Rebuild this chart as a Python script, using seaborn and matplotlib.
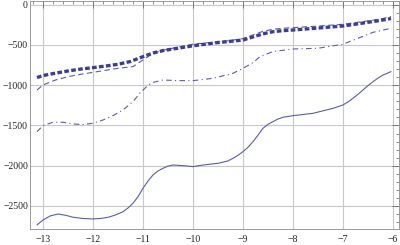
import matplotlib
matplotlib.use("Agg")
import matplotlib.pyplot as plt
import seaborn as sns
import numpy as np
import pandas as pd
from matplotlib.ticker import MultipleLocator, FuncFormatter

# thick dotted curve
x_thick = [-13.12, -13.0, -12.75, -12.5, -12.25, -12.0, -11.75, -11.5, -11.25, -11.0,
           -10.8, -10.6, -10.4, -10.2, -10.0, -9.75, -9.5, -9.25, -9.0, -8.8,
           -8.6, -8.4, -8.2, -8.0, -7.5, -7.0, -6.75, -6.5, -6.25, -6.04]
y_thick = [-905, -880, -850, -823, -800, -782, -762, -740, -705, -645,
           -600, -570, -550, -530, -510, -490, -470, -455, -438, -400,
           -362, -335, -322, -314, -290, -264, -242, -218, -195, -172]

# dashed curve
x_dash = [-13.12, -13.0, -12.75, -12.5, -12.25, -12.0, -11.75, -11.5, -11.2, -11.05,
          -10.9, -10.8, -10.6, -10.4, -10.2, -10.0, -9.75, -9.5, -9.25, -9.0,
          -8.8, -8.6, -8.4, -8.2, -8.0, -7.5, -7.0, -6.75, -6.5, -6.25, -6.04]
y_dash = [-1059, -997, -935, -894, -865, -840, -815, -790, -769, -707,
          -645, -605, -565, -540, -515, -490, -475, -462, -445, -420,
          -375, -330, -305, -292, -285, -265, -243, -222, -202, -178, -148]

# dash-dot curve
x_dashdot = [-13.12, -13.0, -12.8, -12.6, -12.4, -12.2, -12.0, -11.8, -11.6, -11.4,
             -11.2, -11.05, -10.9, -10.8, -10.6, -10.3, -10.0, -9.6, -9.2, -9.0,
             -8.8, -8.66, -8.4, -8.0, -7.5, -7.0, -6.7, -6.4, -6.04]
y_dashdot = [-1577, -1502, -1460, -1460, -1481, -1489, -1472, -1432, -1378, -1307,
             -1204, -1090, -1000, -965, -935, -943, -943, -914, -852, -790,
             -719, -645, -582, -550, -541, -491, -417, -343, -293]

# solid curve
x_solid = [-13.12, -13.0, -12.85, -12.7, -12.55, -12.4, -12.2, -12.0, -11.85, -11.7,
           -11.55, -11.4, -11.3, -11.2, -11.1, -11.0, -10.9, -10.8, -10.7, -10.6,
           -10.5, -10.4, -10.2, -10.0, -9.8, -9.5, -9.3, -9.2, -9.1, -9.0,
           -8.9, -8.8, -8.7, -8.6, -8.5, -8.4, -8.3, -8.2, -8.0, -7.6,
           -7.2, -7.0, -6.9, -6.8, -6.7, -6.6, -6.5, -6.4, -6.3, -6.2, -6.1, -6.04]
y_solid = [-2736, -2674, -2622, -2600, -2615, -2640, -2655, -2661, -2655, -2641,
           -2612, -2571, -2525, -2466, -2385, -2280, -2190, -2115, -2065, -2032,
           -2005, -1991, -1999, -2011, -1991, -1970, -1940, -1908, -1870, -1825,
           -1770, -1701, -1620, -1535, -1485, -1452, -1420, -1398, -1378, -1349,
           -1287, -1245, -1208, -1162, -1112, -1059, -1005, -956, -912, -873, -848, -831]

color = "#3c3c9c"

sns.set_theme(style="white")
plt.rcParams["font.family"] = ["Liberation Serif", "DejaVu Serif"]

fig = plt.figure(figsize=(4.0, 2.45), dpi=100)
ax = fig.add_axes([0.075, 0.0653, 0.9225, 0.9286])

ax.set_xlim(-13.26, -5.88)
ax.set_ylim(-2786, 40)

for v in range(-13, -5):
    ax.axvline(v, color="#c8c8c8", lw=0.8, zorder=0)
for v in range(-2500, 1, 500):
    ax.axhline(v, color="#c8c8c8", lw=0.8, zorder=0)

df_solid = pd.DataFrame({"x": x_solid, "y": y_solid})
sns.lineplot(data=df_solid, x="x", y="y", ax=ax, color="#5a5ab4", lw=0.8, sort=False, estimator=None)

df_dd = pd.DataFrame({"x": x_dashdot, "y": y_dashdot})
sns.lineplot(data=df_dd, x="x", y="y", ax=ax, color="#5a5ab4", lw=0.8, sort=False, estimator=None)
ax.lines[-1].set_dashes([5, 3, 1, 3])

df_d = pd.DataFrame({"x": x_dash, "y": y_dash})
sns.lineplot(data=df_d, x="x", y="y", ax=ax, color="#5a5ab4", lw=0.8, sort=False, estimator=None)
ax.lines[-1].set_dashes([5, 3])

df_t = pd.DataFrame({"x": x_thick, "y": y_thick})
sns.lineplot(data=df_t, x="x", y="y", ax=ax, color=color, lw=2.4, sort=False, estimator=None)
ax.lines[-1].set_dashes([1.4, 0.7])
ax.lines[-1].set_solid_capstyle("butt")
ax.lines[-1].set_dash_capstyle("butt")

ax.set_xlabel("")
ax.set_ylabel("")

ax.xaxis.set_major_locator(MultipleLocator(1))
ax.xaxis.set_minor_locator(MultipleLocator(0.2))
ax.yaxis.set_major_locator(MultipleLocator(500))
ax.yaxis.set_minor_locator(MultipleLocator(100))
fmt = FuncFormatter(lambda v, p: f"{int(round(v))}".replace("-", "\u2212"))
ax.xaxis.set_major_formatter(fmt)
ax.yaxis.set_major_formatter(fmt)

ax.tick_params(which="both", direction="in", top=True, right=True, colors="#777777",
               labelcolor="#222222", labelsize=7)
ax.tick_params(which="major", length=5, width=0.7)
ax.tick_params(which="minor", length=2.5, width=0.6)
ax.tick_params(axis="y", pad=1.5)
ax.tick_params(axis="x", pad=4)

for s in ax.spines.values():
    s.set_color("#999999")
    s.set_linewidth(0.7)

fig.savefig("out.png", dpi=100)
